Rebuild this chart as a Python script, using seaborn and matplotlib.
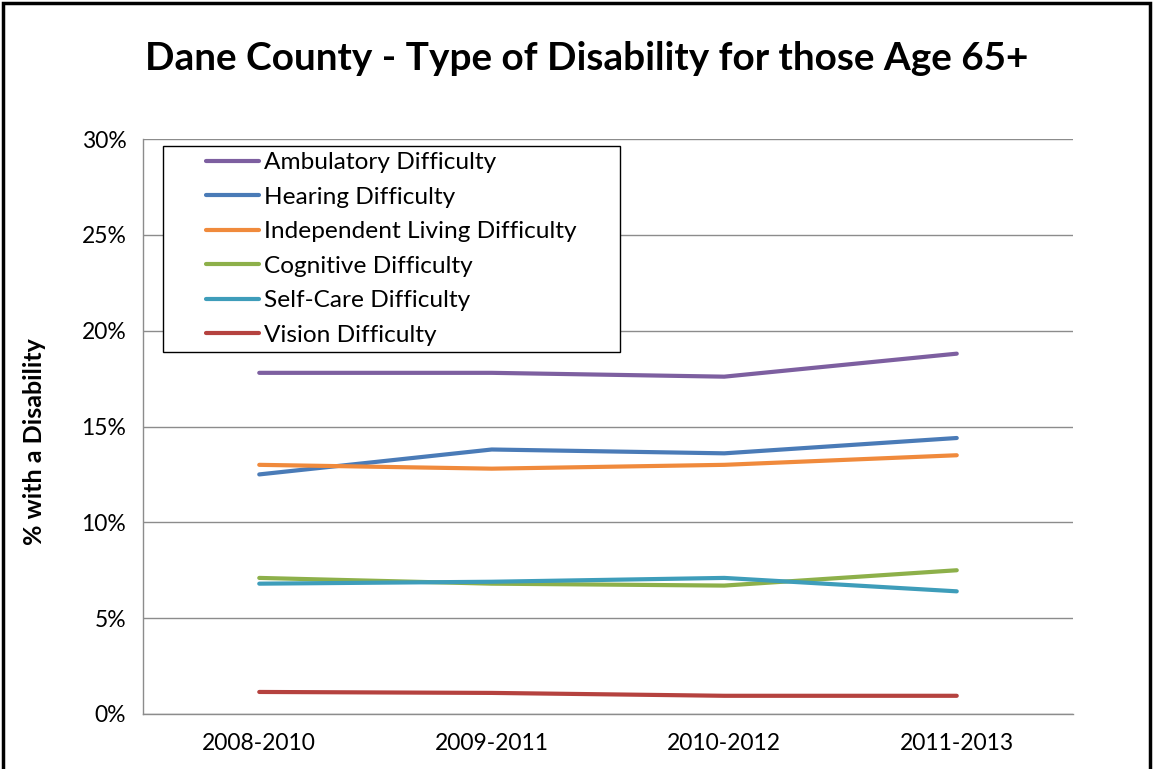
import matplotlib
matplotlib.use("Agg")
import matplotlib.pyplot as plt
import seaborn as sns
import pandas as pd
from matplotlib.patches import Rectangle
from matplotlib.ticker import FuncFormatter, MultipleLocator
from matplotlib.legend_handler import HandlerLine2D
from matplotlib.lines import Line2D

periods = ["2008-2010", "2009-2011", "2010-2012", "2011-2013"]
ambulatory = [17.8, 17.8, 17.6, 18.8]
hearing = [12.5, 13.8, 13.6, 14.4]
independent = [13.0, 12.8, 13.0, 13.5]
cognitive = [7.1, 6.8, 6.7, 7.5]
self_care = [6.8, 6.9, 7.1, 6.4]
vision = [1.15, 1.1, 0.95, 0.95]

series_names = ["Ambulatory Difficulty", "Hearing Difficulty", "Independent Living Difficulty",
                "Cognitive Difficulty", "Self-Care Difficulty", "Vision Difficulty"]
series_values = [ambulatory, hearing, independent, cognitive, self_care, vision]
colors = ["#7D5FA0", "#4A7BB7", "#F08A3C", "#8DB04A", "#3E9DBA", "#B5423F"]

rows = []
for name, vals in zip(series_names, series_values):
    for i, (p, v) in enumerate(zip(periods, vals)):
        rows.append({"Period": p, "idx": i, "Value": v, "Series": name})
df = pd.DataFrame(rows)

sns.set_theme(style="white")
plt.rcParams['font.family'] = ['Lato', 'DejaVu Sans']
plt.rcParams['text.color'] = 'black'

fig = plt.figure(figsize=(11.53, 7.69), dpi=100)
ax = fig.add_axes([143/1153, 1 - 714/769, (1073-143)/1153, (714-139)/769])

sns.lineplot(data=df, x="idx", y="Value", hue="Series", hue_order=series_names,
             palette=colors, linewidth=3.0, ax=ax, sort=False, legend=False)

ax.set_xlim(-0.5, 3.5)
ax.set_ylim(0, 30)
ax.yaxis.set_major_locator(MultipleLocator(5))
ax.yaxis.set_major_formatter(FuncFormatter(lambda v, p: f"{int(v)}%"))
ax.set_xticks(range(len(periods)))
ax.set_xticklabels(periods)
ax.grid(axis="y", color="#8c8c8c", linewidth=1)
ax.set_axisbelow(True)
for s in ["top", "right"]:
    ax.spines[s].set_visible(False)
for s in ["left", "bottom"]:
    ax.spines[s].set_color("#8c8c8c")
    ax.spines[s].set_linewidth(1)
ax.tick_params(axis="both", labelsize=16.5, colors="black", length=0)
ax.tick_params(axis="x", pad=14)
ax.tick_params(axis="y", pad=12)
ax.set_xlabel("")
ax.set_ylabel("% with a Disability", fontsize=18, fontweight="bold", color="black")
ax.yaxis.set_label_coords(-(143 - 46) / 930, (714 - 442) / 575)

handles = [Line2D([], [], color=c, linewidth=3.0) for c in colors]
labels = list(series_names)
labels[2] = labels[2] + "      "
fs = 17.6
leg = ax.legend(handles, labels, loc="upper left", bbox_to_anchor=(20/930, 1 - 7/575),
                fontsize=fs, frameon=True, fancybox=False, edgecolor="black", framealpha=1,
                handlelength=3.68, handletextpad=0.2, labelspacing=0.55,
                borderpad=0.25, borderaxespad=0,
                handler_map={Line2D: HandlerLine2D(xpad=1.52)})
leg.get_frame().set_linewidth(1)

fig.suptitle("Dane County - Type of Disability for those Age 65+", fontsize=27.9,
             fontweight="bold", y=1 - 58/769, va="center", x=(145+1028)/2/1153, color="black")

fig.patches.append(Rectangle((3/1153, -0.05), 1147/1153, 1.05 - 3/769, transform=fig.transFigure,
                             fill=False, edgecolor="black", linewidth=2.5))

fig.savefig("out.png", dpi=100)
